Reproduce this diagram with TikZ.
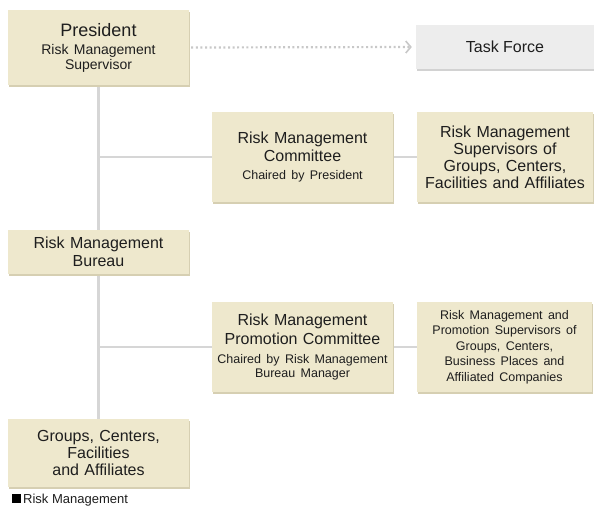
\documentclass[tikz,border=0pt]{standalone}
\usepackage{fontspec}
\setmainfont{Liberation Sans}
\usetikzlibrary{arrows.meta,shadows}
\definecolor{beige}{RGB}{238,232,205}
\definecolor{beigesh}{RGB}{214,207,178}
\definecolor{tfgray}{RGB}{237,237,237}
\definecolor{tfsh}{RGB}{210,210,210}
\definecolor{linec}{RGB}{214,214,214}
\definecolor{dotc}{RGB}{200,200,200}
\definecolor{txt}{RGB}{30,30,30}
\pgfdeclarelayer{bg}
\pgfsetlayers{bg,main}
\newcommand{\fbig}{\fontsize{18}{20}\selectfont}
\newcommand{\fmid}{\fontsize{16}{18}\selectfont}
\newcommand{\fsub}{\fontsize{14}{15}\selectfont}
\newcommand{\fsml}{\fontsize{12.5}{14.5}\selectfont}
\begin{document}
\begin{tikzpicture}[x=1pt,y=-1pt,
  box/.style={fill=beige, inner sep=0pt, align=center, text=txt,
    font=\fmid, text width=#1,
    drop shadow={shadow xshift=1pt, shadow yshift=-1.5pt, fill=beigesh, opacity=1}},
  box/.default=178pt,
  graybox/.style={fill=tfgray, inner sep=0pt, align=center, text=txt,
    font=\fmid,
    drop shadow={shadow xshift=1pt, shadow yshift=-1.5pt, fill=tfsh, opacity=1}},
  conn/.style={draw=linec, line width=2.4pt},
  dots/.style={draw=dotc, line width=2.2pt, dash pattern=on 2pt off 2.6pt,
    -{Straight Barb[length=5pt, width=12pt, line width=1.6pt]}}
]
\useasboundingbox (0,0) rectangle (594,507);

\node[box, minimum width=181pt, minimum height=75pt] (pres) at (98.5,47.5)
  {{\fbig President\par}\vspace{3pt}{\fsub Risk Management\\Supervisor\par}};

\node[graybox, minimum width=178pt, minimum height=44pt] (tf) at (505,47) {Task Force};

\node[box, minimum width=181pt, minimum height=90pt] (rmc) at (302.5,157)
  {{\fmid Risk Management\\Committee\par}\vspace{4pt}{\fsml Chaired by President\par}};

\node[box=174pt, minimum width=176pt, minimum height=90pt] (sup) at (505,157)
  {{\fontsize{16}{17}\selectfont Risk Management\\Supervisors of\\Groups, Centers,\\Facilities and Affiliates\par}};

\node[box, minimum width=181pt, minimum height=44pt] (bureau) at (98.5,252)
  {Risk Management\\Bureau};

\node[box, minimum width=181pt, minimum height=90pt] (rmpc) at (302.5,347)
  {{\fontsize{16}{19}\selectfont Risk Management\\Promotion Committee\par}\vspace{4pt}{\fsml Chaired by Risk Management\\Bureau Manager\par}};

\node[box=173pt, minimum width=175pt, minimum height=90pt] (rmpcr) at (504.5,347)
  {{\fontsize{12.5}{15.6}\selectfont Risk Management and\\Promotion Supervisors of\\Groups, Centers,\\Business Places and\\Affiliated Companies\par}};

\node[box, minimum width=181pt, minimum height=68pt] (groups) at (98.5,453)
  {{\fontsize{16}{17}\selectfont Groups, Centers,\\Facilities\\and Affiliates\par}};

\node[fill=black, minimum size=9pt, inner sep=0pt, anchor=south west] (legsq) at (12,503.5) {};
\node[anchor=base west, inner sep=0pt, text=txt, font=\fontsize{13}{15}\selectfont] (leg) at (23,503.5) {Risk Management};

\begin{pgfonlayer}{bg}
  \draw[conn] (pres.south) -- (bureau.north);
  \draw[conn] (bureau.south) -- (groups.north);
  \draw[conn] (rmc.west) -- (pres.south |- rmc.west);
  \draw[conn] (rmc.east) -- (sup.west);
  \draw[conn] (rmpc.west) -- (bureau.south |- rmpc.west);
  \draw[conn] (rmpc.east) -- (rmpcr.west);
\end{pgfonlayer}
\draw[dots] ([xshift=2pt]pres.east) -- ([xshift=-4pt]tf.west);
\end{tikzpicture}
\end{document}
